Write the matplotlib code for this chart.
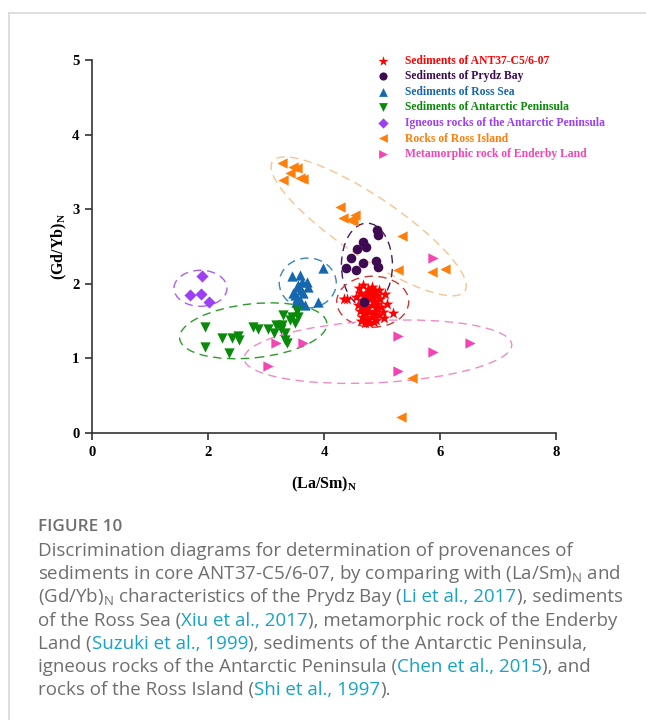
import matplotlib
matplotlib.use("Agg")
import matplotlib.pyplot as plt
from matplotlib.patches import Ellipse
from matplotlib.transforms import ScaledTranslation
from matplotlib.lines import Line2D

# data, (La/Sm)N vs (Gd/Yb)N
ant_x = [4.35, 4.40, 5.19, 5.09, 5.02, 4.91, 4.60, 4.68, 4.75, 4.82, 4.88, 4.95,
         4.62, 4.70, 4.78, 4.85, 4.92, 4.55, 4.65, 4.72, 4.80, 4.87, 4.97, 4.58,
         4.66, 4.74, 4.82, 4.90, 4.98, 4.62, 4.70, 4.78, 4.86, 4.94, 4.66, 4.74,
         4.82, 4.90, 4.70, 4.78, 4.86, 4.64, 4.84, 4.76, 4.69, 4.88, 5.05, 5.03]
ant_y = [1.79, 1.80, 1.61, 1.73, 1.62, 1.73, 1.95, 1.98, 1.93, 1.96, 1.90, 1.92,
         1.88, 1.85, 1.87, 1.83, 1.85, 1.82, 1.78, 1.76, 1.79, 1.77, 1.80, 1.72,
         1.70, 1.68, 1.71, 1.67, 1.69, 1.63, 1.61, 1.62, 1.60, 1.58, 1.55, 1.53,
         1.55, 1.52, 1.48, 1.47, 1.49, 1.50, 1.91, 1.81, 1.66, 1.64, 1.86, 1.54]

prydz_x = [4.91, 4.93, 4.67, 4.72, 4.57, 4.47, 4.67, 4.90, 4.93, 4.38, 4.55, 4.69]
prydz_y = [2.72, 2.65, 2.56, 2.49, 2.47, 2.35, 2.28, 2.31, 2.23, 2.21, 2.19, 1.76]

ross_x = [3.98, 3.45, 3.59, 3.71, 3.53, 3.72, 3.47, 3.64, 3.53, 3.59, 3.90, 3.67,
          3.55, 3.60, 3.50, 3.58, 3.62, 3.52]
ross_y = [2.21, 2.10, 2.12, 2.02, 1.96, 1.96, 1.88, 1.88, 1.81, 1.74, 1.76, 1.72,
          1.98, 1.92, 1.85, 1.78, 2.02, 1.76]

pen_x = [1.95, 1.95, 2.24, 2.36, 2.41, 2.52, 2.54, 2.78, 2.87, 3.04, 3.13, 3.18,
         3.27, 3.33, 3.30, 3.41, 3.50, 3.53, 3.33, 3.36, 3.45, 3.55, 3.25]
pen_y = [1.42, 1.15, 1.27, 1.07, 1.27, 1.30, 1.25, 1.42, 1.39, 1.39, 1.34, 1.45,
         1.45, 1.34, 1.58, 1.51, 1.47, 1.63, 1.25, 1.20, 1.55, 1.55, 1.40]

ign_x = [1.90, 1.69, 1.88, 2.02]
ign_y = [2.10, 1.85, 1.86, 1.76]

isl_x = [3.28, 3.47, 3.53, 3.41, 3.29, 3.59, 3.64, 4.28, 4.33, 4.45, 4.53, 4.50,
         5.34, 5.28, 5.86, 6.09, 5.52, 5.33]
isl_y = [3.62, 3.57, 3.55, 3.49, 3.39, 3.42, 3.40, 3.03, 2.88, 2.86, 2.92, 2.84,
         2.64, 2.18, 2.16, 2.20, 0.74, 0.21]

end_x = [3.03, 3.18, 3.63, 5.28, 5.28, 5.88, 6.52, 5.88]
end_y = [0.90, 1.20, 1.21, 1.30, 0.83, 1.08, 1.21, 2.34]

labels = ["Sediments of ANT37-C5/6-07", "Sediments of Prydz Bay", "Sediments of Ross Sea",
          "Sediments of Antarctic Peninsula", "Igneous rocks of the Antarctic Peninsula",
          "Rocks of Ross Island", "Metamorphic rock of Enderby Land"]

W, H = 646, 720
fig = plt.figure(figsize=(W / 100, H / 100), dpi=100)
ax = fig.add_axes([92 / W, 1 - 433 / H, 464 / W, 373 / H])

serif = "Liberation Serif"

groups = [
    (ant_x, ant_y, "*", "#ff0000", 80),
    (prydz_x, prydz_y, "o", "#3e0a52", 48),
    (ross_x, ross_y, "^", "#1567ae", 55),
    (pen_x, pen_y, "v", "#0a8a0a", 55),
    (ign_x, ign_y, "D", "#9d3ff2", 38),
    (isl_x, isl_y, "<", "#ff7f0a", 55),
    (end_x, end_y, ">", "#f545b4", 55),
]
for (gx, gy, m, c, s), lab in zip(groups, labels):
    ax.scatter(gx, gy, marker=m, color=c, s=s, linewidths=0, label=lab, zorder=3)

# dashed field outlines: centre (data), semi-axes (px), angle, colour
fields = [
    (4.77, 2.77, 116, 30, -34, "#f6c48e"),
    (4.74, 2.25, 25.5, 42, 0, "#4a1a5e"),
    (4.84, 1.76, 36, 25.5, 0, "#c83a3a"),
    (3.72, 2.01, 28.5, 25, 0, "#3a86b8"),
    (1.87, 1.94, 26.5, 18, 0, "#a860f0"),
    (2.78, 1.37, 74, 27, 6, "#2e9a2e"),
    (4.93, 1.09, 134, 31, 3, "#f08ac6"),
]
for cx, cy, a, b, ang, col in fields:
    tr = fig.dpi_scale_trans + ScaledTranslation(cx, cy, ax.transData)
    e = Ellipse((0, 0), 2 * a / 100, 2 * b / 100, angle=ang, transform=tr,
                fill=False, edgecolor=col, linestyle=(0, (6, 4)), linewidth=1.0, zorder=2)
    ax.add_patch(e)

ax.set_xlim(0, 8)
ax.set_ylim(0, 5)
ax.set_xticks([0, 2, 4, 6, 8])
ax.set_yticks([0, 1, 2, 3, 4, 5])
for sp in ["top", "right"]:
    ax.spines[sp].set_visible(False)
for sp in ["left", "bottom"]:
    ax.spines[sp].set_color("#333333")
    ax.spines[sp].set_linewidth(1.2)
ax.tick_params(direction="out", length=5, width=1.2, color="#333333", labelsize=10.5, pad=4)
for t in ax.get_xticklabels() + ax.get_yticklabels():
    t.set_fontfamily(serif)
    t.set_fontweight("bold")

ax.set_xlabel(r"(La/Sm)$_\mathregular{N}$", fontsize=11.5, fontweight="bold",
              fontfamily=serif, labelpad=12)
ax.set_ylabel(r"(Gd/Yb)$_\mathregular{N}$", fontsize=11.5, fontweight="bold",
              fontfamily=serif, labelpad=2)

leg = ax.legend(loc="upper left", bbox_to_anchor=(377 / W, 1 - 55 / H),
                bbox_transform=fig.transFigure, frameon=False, borderpad=0, borderaxespad=0,
                handlelength=1.0, handletextpad=1.4, labelspacing=0.3,
                prop={"family": serif, "weight": "bold", "size": 8.4}, markerscale=0.85)
for txt, g in zip(leg.get_texts(), groups):
    txt.set_color(g[3])

# page frame
fig.add_artist(Line2D([9 / W, 1], [1 - 13 / H, 1 - 13 / H], color="#d9d9d9", lw=1.2))
fig.add_artist(Line2D([9 / W, 9 / W], [0, 1 - 13 / H], color="#d9d9d9", lw=1.2))

# caption
grey = "#6e6e6e"
cyan = "#17a3c5"
cap_font = "Open Sans"
fig.text(38 / W, 1 - 527 / H, "FIGURE 10", color=grey, fontsize=12.3, fontweight="semibold",
         fontfamily=cap_font, va="center")

cap_lines = [
    [("Discrimination diagrams for determination of provenances of", grey)],
    [(r"sediments in core ANT37-C5/6-07, by comparing with (La/Sm)$_\mathregular{N}$ and", grey)],
    [(r"(Gd/Yb)$_\mathregular{N}$ characteristics of the Prydz Bay (", grey),
     ("Li et al., 2017", cyan), ("), sediments", grey)],
    [("of the Ross Sea (", grey), ("Xiu et al., 2017", cyan),
     ("), metamorphic rock of the Enderby", grey)],
    [("Land (", grey), ("Suzuki et al., 1999", cyan),
     ("), sediments of the Antarctic Peninsula,", grey)],
    [("igneous rocks of the Antarctic Peninsula (", grey), ("Chen et al., 2015", cyan),
     ("), and", grey)],
    [("rocks of the Ross Island (", grey), ("Shi et al., 1997", cyan), (").", grey)],
]

renderer = fig.canvas.get_renderer()
y0 = 551
for i, line in enumerate(cap_lines):
    x = 38
    y = y0 + i * 23.2
    for s, c in line:
        t = fig.text(x / W, 1 - y / H, s, color=c, fontsize=13.5, fontfamily=cap_font,
                     va="center")
        x += t.get_window_extent(renderer).width

fig.savefig("out.png", dpi=100)
